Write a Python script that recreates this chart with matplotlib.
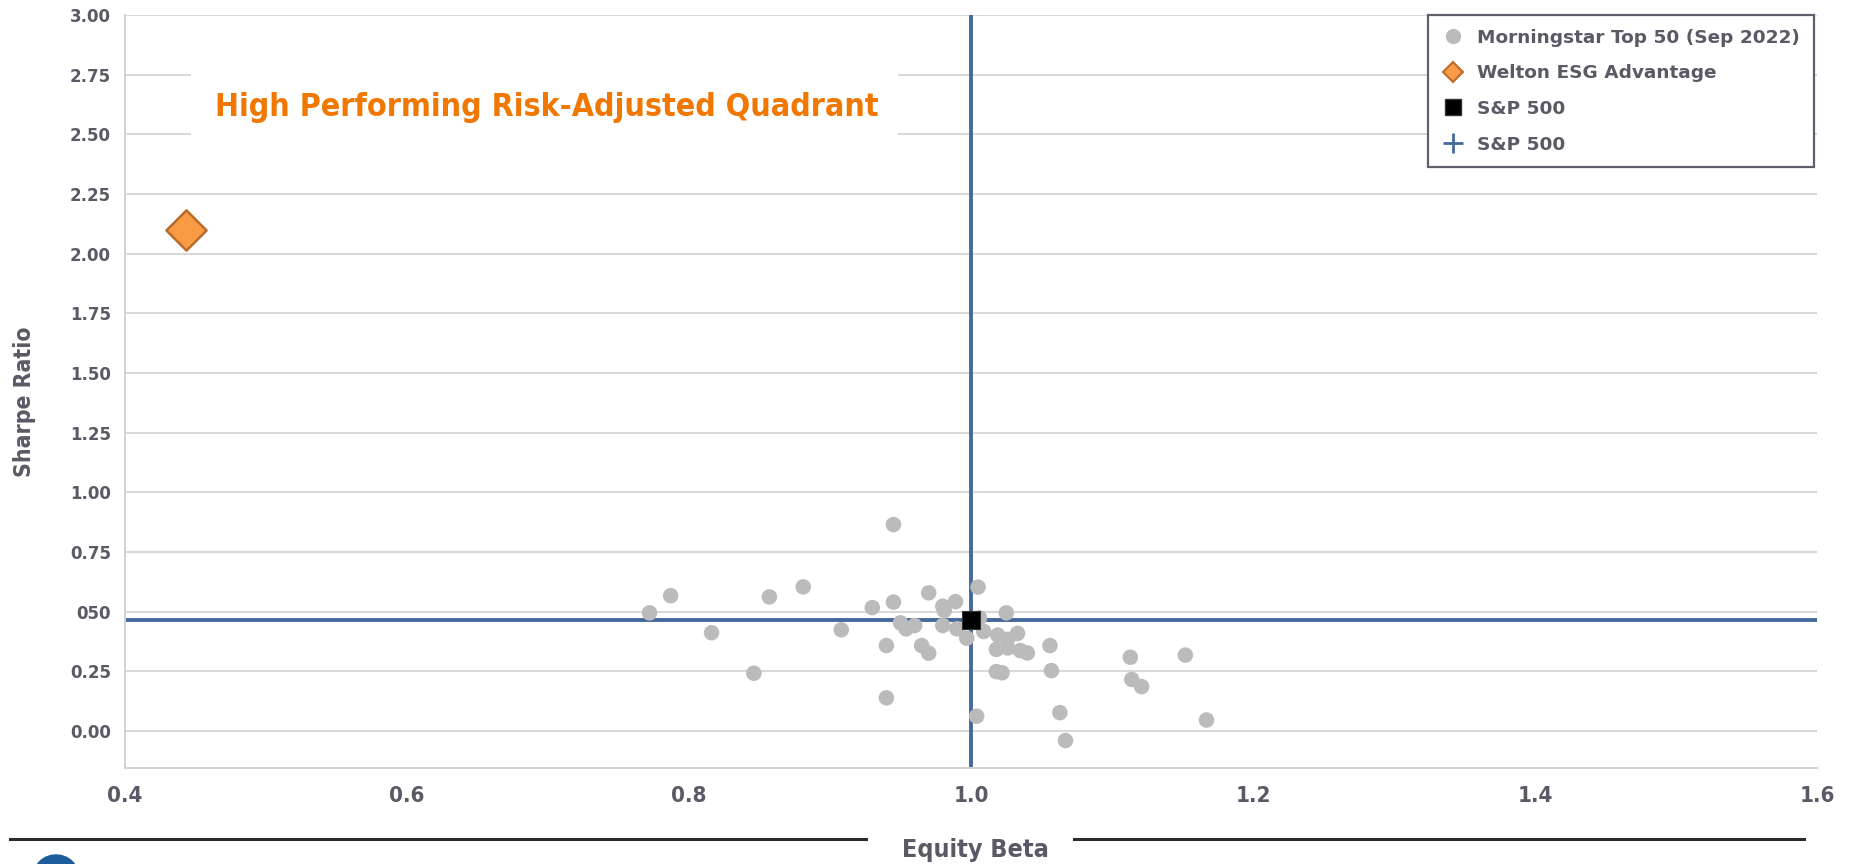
import matplotlib
matplotlib.use("Agg")
import matplotlib.pyplot as plt
from matplotlib.lines import Line2D
from matplotlib.patches import Rectangle, Ellipse

# Morningstar Top 50 (Sep 2022): equity beta vs sharpe ratio
peer_beta = [0.945, 0.772, 0.787, 0.816, 0.846, 0.857, 0.881, 0.908, 0.930, 0.945,
             0.940, 0.940, 0.950, 0.954, 0.960, 0.965, 0.970, 0.970, 0.980, 0.981,
             0.989, 1.005, 0.980, 0.990, 0.997, 1.006, 1.009, 1.025, 1.019, 1.026,
             1.033, 1.018, 1.026, 1.035, 1.040, 1.018, 1.022, 1.056, 1.057, 1.004,
             1.063, 1.067, 1.113, 1.114, 1.121, 1.152, 1.167]
peer_sharpe = [0.865, 0.495, 0.567, 0.412, 0.242, 0.562, 0.604, 0.424, 0.517, 0.540,
               0.358, 0.139, 0.453, 0.428, 0.442, 0.358, 0.326, 0.579, 0.523, 0.505,
               0.542, 0.603, 0.442, 0.428, 0.389, 0.474, 0.417, 0.495, 0.402, 0.384,
               0.409, 0.342, 0.348, 0.337, 0.327, 0.249, 0.244, 0.358, 0.253, 0.062,
               0.077, -0.040, 0.309, 0.216, 0.186, 0.318, 0.046]

welton_beta = [0.443]
welton_sharpe = [2.10]

sp500_beta = 1.0
sp500_sharpe = 0.467

y_ticks = [0.0, 0.25, 0.5, 0.75, 1.0, 1.25, 1.5, 1.75, 2.0, 2.25, 2.5, 2.75, 3.0]
y_tick_labels = ["0.00", "0.25", "050", "0.75", "1.00", "1.25", "1.50", "1.75",
                 "2.00", "2.25", "2.50", "2.75", "3.00"]
x_ticks = [0.4, 0.6, 0.8, 1.0, 1.2, 1.4, 1.6]
x_tick_labels = ["0.4", "0.6", "0.8", "1.0", "1.2", "1.4", "1.6"]

text_grey = "#5A5A66"
blue = "#44699A"

fig = plt.figure(figsize=(18.51, 8.64), dpi=100)
ax = fig.add_axes([125 / 1851, 1 - 768 / 864, (1817 - 125) / 1851, (768 - 15) / 864])

ax.set_xlim(0.4, 1.6)
ax.set_ylim(-0.155, 3.0)

# grid and frame
ax.set_yticks(y_ticks)
ax.yaxis.grid(True, color="#D9D9D9", linewidth=1.5, zorder=0)
ax.set_axisbelow(True)
for side in ["top", "right"]:
    ax.spines[side].set_visible(False)
for side in ["left", "bottom"]:
    ax.spines[side].set_color("#D3D3D3")
    ax.spines[side].set_linewidth(1.5)
ax.tick_params(length=0)

ax.set_yticklabels(y_tick_labels, fontsize=12, fontweight="bold", color=text_grey)
ax.tick_params(axis="y", pad=10)
ax.set_xticks(x_ticks)
ax.set_xticklabels(x_tick_labels, fontsize=16, fontweight="bold", color=text_grey,
                   fontstretch="condensed")
ax.tick_params(axis="x", pad=13)

# white box behind the quadrant caption
ax.add_patch(Rectangle((0.447, 2.36), 0.501, 0.5, facecolor="white",
                       edgecolor="none", zorder=1))
ax.text(0.699, 2.575, "High Performing Risk-Adjusted Quadrant", color="#F07800",
        fontsize=23, fontweight="bold", ha="center", va="baseline", zorder=2,
        fontstretch="condensed")

# S&P 500 crosshair
ax.axvline(sp500_beta, color=blue, linewidth=2.8, zorder=2)
ax.axhline(sp500_sharpe, color=blue, linewidth=2.8, zorder=2)

ax.scatter(peer_beta, peer_sharpe, s=125, color="#BBBBBB", edgecolors="none", zorder=3)
ax.scatter(welton_beta, welton_sharpe, marker="D", s=420, color="#F99B45",
           edgecolors="#B76B2C", linewidths=1.8, zorder=4)
ax.scatter([sp500_beta], [sp500_sharpe], marker="s", s=150, color="black",
           edgecolors="#333333", linewidths=0.8, zorder=5)

handles = [
    Line2D([], [], linestyle="none", marker="o", markersize=11,
           markerfacecolor="#BBBBBB", markeredgecolor="none"),
    Line2D([], [], linestyle="none", marker="D", markersize=10,
           markerfacecolor="#F99B45", markeredgecolor="#B76B2C", markeredgewidth=1.5),
    Line2D([], [], linestyle="none", marker="s", markersize=12,
           markerfacecolor="black", markeredgecolor="#333333"),
    Line2D([], [], linestyle="none", marker="+", markersize=14,
           markeredgecolor=blue, markeredgewidth=2),
]
labels = ["Morningstar Top 50 (Sep 2022)", "Welton ESG Advantage", "S&P 500", "S&P 500"]
leg = ax.legend(handles, labels, loc="upper right", bbox_to_anchor=(0.998, 1.0),
                fancybox=False, framealpha=1, edgecolor="#5F5F6E", borderpad=0.75,
                labelspacing=0.95, handlelength=1.2, handletextpad=0.7,
                borderaxespad=0, prop={"weight": "bold", "size": 13.3})
leg.get_frame().set_linewidth(1.6)
leg.set_zorder(10)
for t in leg.get_texts():
    t.set_color(text_grey)

# axis titles
fig.text(25 / 1851, 1 - 402 / 864, "Sharpe Ratio", rotation=90, fontsize=16.5,
         fontweight="bold", color=text_grey, ha="center", va="center",
         fontstretch="condensed")
fig.text(975 / 1851, 1 - 850 / 864, "Equity Beta", fontsize=18, fontweight="bold",
         color=text_grey, ha="center", va="center", fontstretch="condensed")

# footer rules on both sides of the x label
y_rule = 1 - 839 / 864
fig.add_artist(Line2D([10 / 1851, 866 / 1851], [y_rule, y_rule], color="#2B2B2B",
                      linewidth=2.2, transform=fig.transFigure))
fig.add_artist(Line2D([1074 / 1851, 1804 / 1851], [y_rule, y_rule], color="#2B2B2B",
                      linewidth=2.2, transform=fig.transFigure))

# cropped logo at the bottom left
fig.add_artist(Ellipse((56, -11), 44, 40, color="#1D5D9B", transform=None))

fig.savefig("out.png", dpi=100)
